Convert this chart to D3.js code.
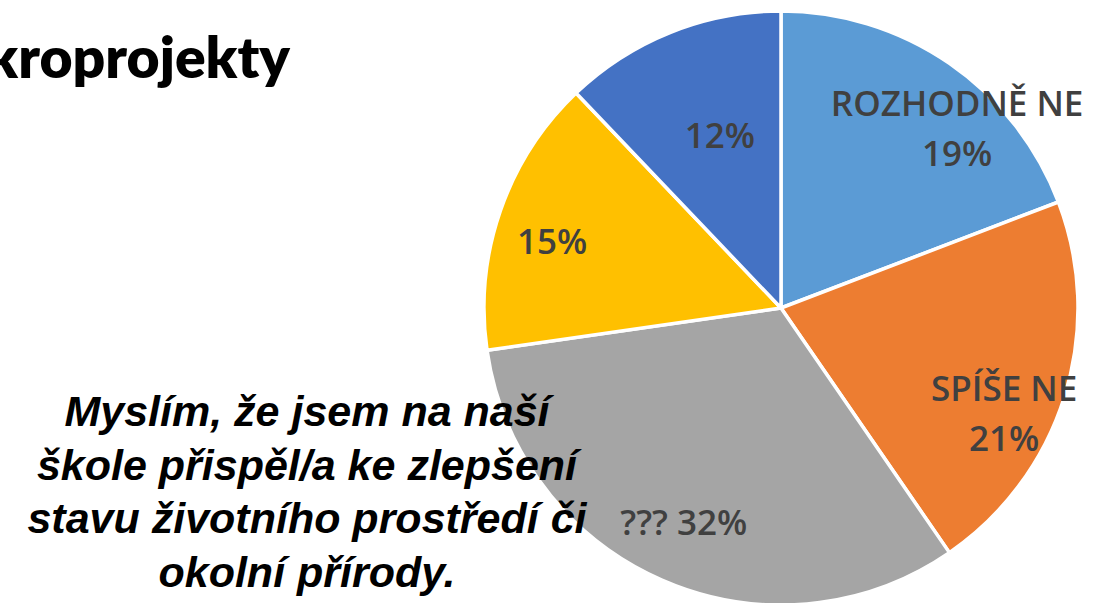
<!DOCTYPE html>
<html>
<head>
<meta charset="utf-8">
<script src="https://cdn.jsdelivr.net/npm/d3@7"></script>
<style>
  html, body { margin: 0; padding: 0; background: #fff; overflow: hidden; }
  svg { display: block; }
</style>
</head>
<body>
<svg id="chart"></svg>
<script>
// slice data, clockwise from 12 o'clock
const categories = ["ROZHODNĚ NE", "SPÍŠE NE", "???", "", ""];
const values = [19, 21, 32, 15, 12];
const colors = ["#5B9BD5", "#ED7D31", "#A5A5A5", "#FFC000", "#4472C4"];

const titleText = "Mikroprojekty";
const questionLines = [
    "Myslím, že jsem na naší",
    "škole přispěl/a ke zlepšení",
    "stavu životního prostředí či",
    "okolní přírody."
];

(function () {
    var width = 1094, height = 603;
    var cx = 781, cy = 308, radius = 297;

    var svg = d3.select("#chart")
        .attr("width", width)
        .attr("height", height);

    // title, partly cut off at the left edge (as on the slide)
    svg.append("text")
        .attr("x", 290)
        .attr("y", 78)
        .attr("text-anchor", "end")
        .style("font-family", "Lato, 'Open Sans', sans-serif")
        .style("font-weight", 800)
        .style("font-size", "57px")
        .style("fill", "#000")
        .text(titleText);

    var pie = d3.pie().sort(null).value(function(d) { return d; });
    var arcs = pie(values);

    var arc = d3.arc().innerRadius(0).outerRadius(radius);
    var labelArc = d3.arc().innerRadius(240).outerRadius(240);

    var g = svg.append("g")
        .attr("transform", "translate(" + cx + "," + cy + ")");

    g.selectAll("path.slice")
        .data(arcs)
        .enter().append("path")
        .attr("class", "slice")
        .attr("d", arc)
        .style("fill", function(d, i) { return colors[i]; })
        .style("stroke", "#fff")
        .style("stroke-width", 3.5)
        .style("stroke-linejoin", "round");

    // nudges for the labels, the way they were dragged in the original
    var nudge = [[40, 20], [-6, 36], [-1, -5], [-2, 12], [28, 51]];
    var twoLines = [true, true, false, false, false];

    var labels = g.selectAll("text.lbl")
        .data(arcs)
        .enter().append("text")
        .attr("class", "lbl")
        .attr("text-anchor", "middle")
        .style("font-family", "'Open Sans', sans-serif")
        .style("font-weight", 600)
        .style("font-size", "35px")
        .style("fill", "#404040")
        .attr("transform", function(d, i) {
            var c = labelArc.centroid(d);
            return "translate(" + (c[0] + nudge[i][0]) + "," + (c[1] + nudge[i][1]) + ")";
        });

    labels.each(function(d, i) {
        var t = d3.select(this);
        var pct = values[i] + "%";
        if (twoLines[i]) {
            t.append("tspan").attr("x", 0).attr("y", -14).text(categories[i]);
            t.append("tspan").attr("x", 0).attr("y", 36).text(pct);
        } else {
            var s = categories[i] ? categories[i] + " " + pct : pct;
            t.append("tspan").attr("x", 0).attr("y", 12).text(s);
        }
    });

    // question text, drawn over the pie
    svg.append("g").selectAll("text")
        .data(questionLines)
        .enter().append("text")
        .attr("x", 307)
        .attr("y", function(d, i) { return 426 + i * 53.5; })
        .attr("text-anchor", "middle")
        .style("font-family", "'Liberation Sans', Arial, sans-serif")
        .style("font-weight", 700)
        .style("font-style", "italic")
        .style("font-size", "43px")
        .style("fill", "#000")
        .text(function(d) { return d; });
})();
</script>
</body>
</html>
